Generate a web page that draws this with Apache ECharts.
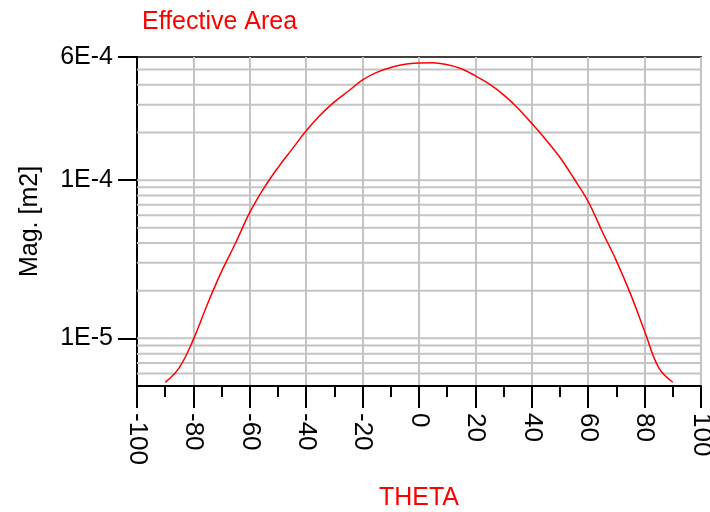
<!DOCTYPE html>
<html>
<head>
<meta charset="utf-8">
<script src="https://cdn.jsdelivr.net/npm/echarts@6/dist/echarts.min.js"></script>
<style>
html,body{margin:0;padding:0;background:#fff;}
#chart{width:710px;height:512px;}
</style>
</head>
<body>
<div id="chart"></div>
<script>
// THETA (degrees)
var theta = [-90,-85,-80,-75,-70,-65,-60,-55,-50,-45,-40,-35,-30,-25,-20,-15,-10,-5,0,
             5,10,15,20,25,30,35,40,45,50,55,60,65,70,75,80,85,90];
// Effective area magnitude [m2]
var effArea = [5.27e-6,6.54e-6,9.86e-6,1.65e-5,2.65e-5,4.02e-5,6.25e-5,8.9e-5,1.2e-4,1.57e-4,
               2.05e-4,2.58e-4,3.12e-4,3.66e-4,4.30e-4,4.80e-4,5.15e-4,5.40e-4,5.50e-4,
               5.52e-4,5.36e-4,5.06e-4,4.56e-4,4.04e-4,3.46e-4,2.86e-4,2.28e-4,1.80e-4,1.39e-4,
               1.02e-4,7.32e-5,4.72e-5,3.09e-5,1.91e-5,1.11e-5,6.54e-6,5.28e-6];
// horizontal grid lines
var yGridValues = [6e-6,7e-6,8e-6,9e-6,1e-5,2e-5,3e-5,4e-5,5e-5,6e-5,7e-5,8e-5,9e-5,
                   1e-4,2e-4,3e-4,4e-4,5e-4];
var yMin = 5e-6, yMax = 6e-4;
var xMin = -100, xMax = 100, xStep = 20;

var FONT = '"Liberation Sans", Arial, sans-serif';
var chart = echarts.init(document.getElementById('chart'));
var pts = theta.map(function (t, i) { return [t, effArea[i]]; });

var gridSeries = yGridValues.map(function (v) {
  return {
    type: 'line', silent: true, showSymbol: false, symbol: 'none', z: 1,
    data: [[xMin, v], [xMax, v]],
    lineStyle: {color: '#c4c4c4', width: 2}
  };
});

chart.setOption({
  animation: false,
  backgroundColor: '#ffffff',
  title: {
    text: 'Effective Area',
    left: 137, top: 5,
    textStyle: {color: '#ff0000', fontSize: 25, fontWeight: 'normal', fontFamily: FONT}
  },
  grid: {left: 137, right: 9, top: 57, bottom: 126, show: true,
         containLabel: false, outerBoundsMode: 'none',
         borderColor: '#404040', borderWidth: 2, backgroundColor: 'transparent'},
  xAxis: {
    type: 'value', min: xMin, max: xMax, interval: xStep,
    name: 'THETA', nameLocation: 'middle', nameGap: 100,
    nameTextStyle: {color: '#ff0000', fontSize: 25, fontFamily: FONT},
    axisLine: {onZero: false, lineStyle: {color: '#000', width: 2}},
    axisTick: {show: true, inside: false, length: 22, lineStyle: {color: '#000', width: 2}},
    minorTick: {show: true, splitNumber: 2, length: 11, lineStyle: {color: '#000', width: 2}},
    axisLabel: {rotate: -90, margin: 27, color: '#000', fontSize: 26, fontFamily: FONT,
                showMinLabel: true, showMaxLabel: true},
    splitLine: {show: true, lineStyle: {color: '#c4c4c4', width: 2}}
  },
  yAxis: {
    type: 'log', logBase: 10, min: yMin, max: yMax,
    name: 'Mag. [m2]', nameLocation: 'middle', nameGap: 94, nameRotate: 90,
    nameTextStyle: {color: '#000', fontSize: 25, fontFamily: FONT},
    axisLine: {onZero: false, lineStyle: {color: '#000', width: 2}},
    axisTick: {show: true, inside: false, length: 19, lineStyle: {color: '#000', width: 2}},
    axisLabel: {
      margin: 24, color: '#000', fontSize: 25, fontFamily: FONT,
      showMinLabel: false, showMaxLabel: true,
      formatter: function (v) {
        if (v < 6e-6) return '';
        return v.toExponential(0).toUpperCase().replace('+', '');
      }
    },
    splitLine: {show: false}
  },
  series: gridSeries.concat([{
    type: 'line',
    data: pts,
    showSymbol: false,
    smooth: 0.4,
    lineStyle: {color: '#ff0000', width: 1.5},
    z: 5
  }])
});
</script>
</body>
</html>
